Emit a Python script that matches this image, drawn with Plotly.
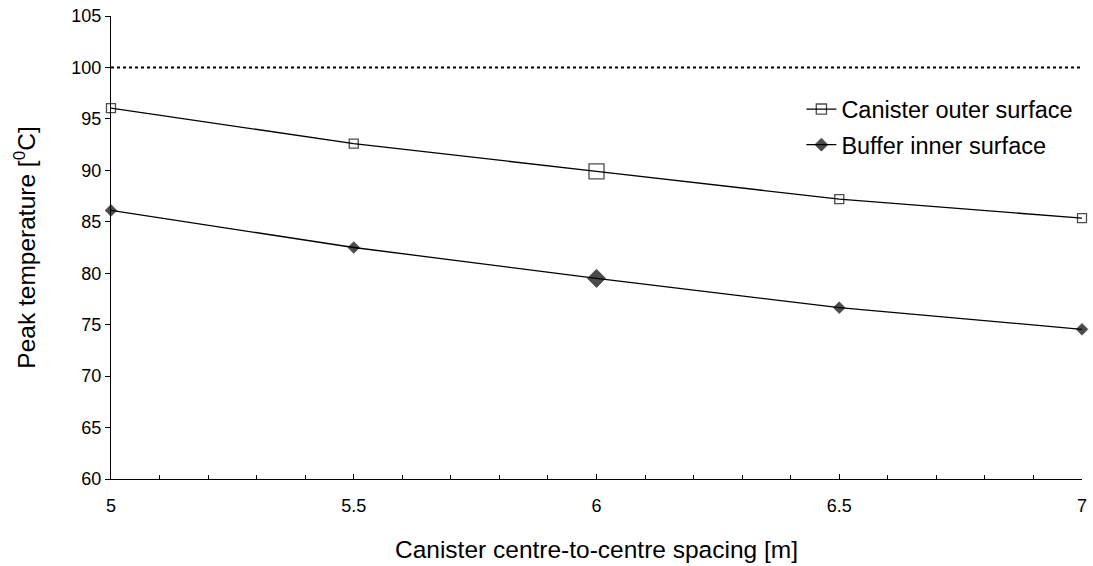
import plotly.graph_objects as go

# Canister centre-to-centre spacing [m]
spacing = [5.0, 5.5, 6.0, 6.5, 7.0]

# Peak temperatures [°C]
canister_outer = [96.05, 92.6, 89.9, 87.2, 85.35]
buffer_inner = [86.1, 82.5, 79.5, 76.65, 74.55]

limit_temp = 100

x_ticks = [5, 5.5, 6, 6.5, 7]
x_tick_labels = ["5", "5.5", "6", "6.5", "7"]
y_ticks = [60, 65, 70, 75, 80, 85, 90, 95, 100, 105]

# the reference case (6 m) is drawn with a larger marker
square_sizes = [9, 9, 15, 9, 9]
diamond_sizes = [9, 9, 14, 9, 9]

FONT = "Arial, Liberation Sans, sans-serif"

fig = go.Figure()

fig.add_trace(go.Scatter(
    x=spacing, y=canister_outer, mode="lines+markers",
    name="Canister outer surface", legendgroup="a",
    line=dict(color="black", width=1.3),
    marker=dict(symbol="square-open", size=square_sizes, color="black",
                line=dict(width=1.3, color="black")),
    cliponaxis=False,
))
fig.add_trace(go.Scatter(
    x=spacing, y=buffer_inner, mode="lines+markers",
    name="Buffer inner surface", legendgroup="b",
    line=dict(color="black", width=1.3),
    marker=dict(symbol="diamond", size=diamond_sizes, color="black",
                line=dict(width=0.8, color="black")),
    cliponaxis=False,
))

fig.add_shape(type="line", xref="x", yref="y", x0=spacing[0], x1=spacing[-1],
              y0=limit_temp, y1=limit_temp,
              line=dict(color="black", width=2, dash="3px,3px"))

fig.update_layout(
    width=1093, height=566,
    margin=dict(l=111, r=6, t=16, b=87),
    paper_bgcolor="white", plot_bgcolor="white",
    font=dict(family=FONT, color="black", size=18),
    showlegend=True,
    legend=dict(x=0.711, y=0.846, xanchor="left", yanchor="top",
                font=dict(size=23.5), bgcolor="rgba(0,0,0,0)",
                tracegroupgap=2, itemwidth=30),
    xaxis=dict(
        range=[5, 7], tickmode="array", tickvals=x_ticks, ticktext=x_tick_labels,
        ticks="inside", ticklen=5, tickwidth=1, tickcolor="black",
        minor=dict(dtick=0.1, ticks="inside", ticklen=4, tickwidth=1, tickcolor="black"),
        showline=True, linecolor="black", linewidth=1.3,
        showgrid=False, zeroline=False, ticklabelstandoff=10,
        title=dict(text="Canister centre-to-centre spacing [m]", font=dict(size=24.5), standoff=26),
    ),
    yaxis=dict(
        range=[60, 105], tickmode="array", tickvals=y_ticks,
        ticks="outside", ticklen=5, tickwidth=1, tickcolor="black",
        showline=True, linecolor="black", linewidth=1.3,
        showgrid=False, zeroline=False,
        title=dict(text="Peak temperature [<sup>0</sup>C]", font=dict(size=24.5), standoff=28),
    ),
)

fig.write_html("out.html")
